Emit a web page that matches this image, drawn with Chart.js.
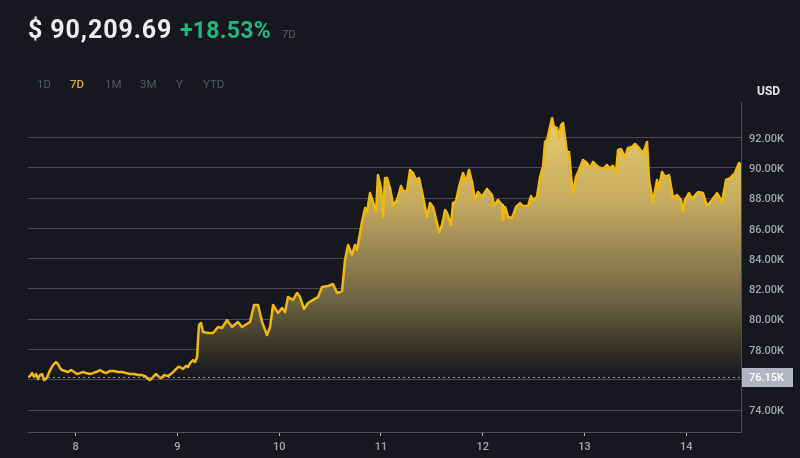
<!DOCTYPE html>
<html>
<head>
<meta charset="utf-8">
<style>
html,body{margin:0;padding:0;background:#17181f;width:800px;height:458px;overflow:hidden;font-family:Roboto,sans-serif}
#wrap{position:relative;width:800px;height:458px}
canvas{position:absolute;left:0;top:0}
.t{position:absolute;white-space:nowrap;line-height:1}
</style>
</head>
<body>
<div id="wrap">
<canvas id="c" width="800" height="458"></canvas>
<div class="t" style="left:28px;top:17px;font-size:25px;font-weight:700;color:#eceef2;letter-spacing:0.9px">$ 90,209.69</div>
<div class="t" style="left:180px;top:19px;font-size:23px;font-weight:700;color:#1cb97c;letter-spacing:0.3px">+18.53%</div>
<div class="t" style="left:282px;top:29px;font-size:11px;color:#5a5c66">7D</div>
<div class="t" style="left:37px;top:79px;font-size:11.5px;color:#575963">1D</div>
<div class="t" style="left:70px;top:79px;font-size:11.5px;font-weight:500;color:#d6ab33">7D</div>
<div class="t" style="left:105px;top:79px;font-size:11.5px;color:#575963">1M</div>
<div class="t" style="left:140px;top:79px;font-size:11.5px;color:#575963">3M</div>
<div class="t" style="left:176px;top:79px;font-size:11.5px;color:#575963">Y</div>
<div class="t" style="left:203px;top:79px;font-size:11.5px;color:#575963">YTD</div>
<div class="t" style="left:757px;top:85px;font-size:12px;font-weight:700;color:#e4e6ea">USD</div>
</div>
<script src="https://cdn.jsdelivr.net/npm/chart.js@4"></script>
<script>
const days=[7.533,7.553,7.573,7.592,7.612,7.632,7.651,7.671,7.691,7.710,7.730,7.750,7.779,7.808,7.828,7.848,7.867,7.897,7.926,7.956,7.985,8.015,8.044,8.074,8.103,8.142,8.172,8.201,8.241,8.270,8.300,8.339,8.378,8.417,8.457,8.496,8.535,8.575,8.614,8.653,8.683,8.712,8.732,8.761,8.791,8.820,8.840,8.869,8.909,8.948,8.977,9.007,9.027,9.056,9.085,9.105,9.125,9.154,9.174,9.194,9.203,9.213,
9.233,9.252,9.302,9.351,9.400,9.439,9.488,9.537,9.596,9.635,9.714,9.753,9.793,9.832,9.881,9.911,9.940,9.989,10.028,10.058,10.087,10.137,10.176,10.205,10.244,10.284,10.333,10.382,10.421,10.480,10.529,10.569,10.618,10.638,
10.647,10.677,10.716,10.745,10.765,10.814,10.844,10.863,10.893,10.922,10.952,10.971,11.001,11.021,11.040,11.060,11.089,11.119,11.158,11.197,11.217,11.256,11.286,11.315,11.345,11.374,11.404,11.453,11.482,11.512,11.551,11.571,11.600,11.630,11.649,11.689,11.708,11.738,11.767,11.806,11.836,11.865,11.895,11.924,11.954,11.993,
12.042,12.091,12.111,12.150,12.190,12.199,12.219,12.249,12.288,12.327,12.366,12.396,12.445,12.474,12.494,12.533,12.563,12.592,12.612,12.632,12.681,12.700,12.730,12.749,12.769,12.789,12.828,12.848,12.877,12.887,12.916,12.946,12.985,13.025,13.054,13.083,13.133,13.182,13.221,13.241,13.280,13.309,13.329,13.358,13.398,13.427,13.467,13.496,13.526,13.575,13.614,13.634,13.673,13.712,13.732,13.761,13.791,13.830,13.869,13.909,13.948,13.968,13.987,14.026,14.056,14.115,14.164,14.203,14.253,14.302,14.351,14.390,14.429,14.478,14.518,14.537];
const prices=[76.18,76.24,76.44,76.18,76.38,76.05,76.31,76.38,75.98,76.05,76.31,76.64,76.97,77.17,77.04,76.77,76.64,76.58,76.51,76.64,76.51,76.38,76.44,76.51,76.44,76.38,76.44,76.51,76.64,76.51,76.44,76.58,76.58,76.51,76.51,76.44,76.38,76.38,76.31,76.31,76.24,76.05,75.98,76.18,76.38,76.18,76.11,76.31,76.24,76.44,76.64,76.84,76.84,76.71,76.91,76.84,77.10,77.30,77.17,77.50,78.62,79.61,
79.75,79.15,79.09,79.09,79.48,79.42,79.94,79.48,79.81,79.48,79.81,80.94,80.94,79.81,78.95,79.48,80.94,80.41,80.74,80.47,81.46,81.27,81.73,81.46,80.67,81.07,81.27,81.46,82.12,82.19,82.32,81.73,81.86,83.25,
83.91,84.90,84.24,84.90,84.57,86.42,87.34,87.08,88.33,87.74,87.08,89.52,88.66,86.75,89.32,89.32,88.66,87.54,87.87,88.79,88.46,88.46,89.85,89.65,89.19,89.32,88.40,86.75,87.67,87.41,86.35,85.76,86.22,87.21,87.01,86.22,87.67,87.80,88.73,89.65,89.06,89.85,89.06,87.87,88.40,88.07,
88.60,88.20,87.47,87.87,87.54,86.55,87.41,86.75,86.68,87.41,87.67,87.47,87.47,88.13,87.87,88.07,89.39,90.05,91.70,91.83,93.29,92.69,92.63,91.97,92.82,92.96,90.97,91.04,88.73,88.33,89.39,89.85,90.51,90.31,89.98,90.38,90.05,89.92,90.18,89.98,90.12,89.65,91.17,91.24,90.71,91.31,91.37,91.57,91.37,90.97,91.70,89.19,87.74,89.19,88.66,89.72,89.39,89.52,88.00,88.20,87.87,87.08,87.87,88.33,87.94,88.40,88.33,87.47,87.87,88.33,87.74,89.19,89.32,89.65,90.31,90.18];
const baseDays=[7.533,14.537];
const baseValues=[76.15,76.15];
const baseLabel='76.15K';
const yTicks=[74,76,78,80,82,84,86,88,90,92];
const xTicks=[8,9,10,11,12,13,14];

const tagPlugin={id:'tag',afterDraw(ch){
  const y=ch.scales.y.getPixelForValue(baseValues[0]),c=ch.ctx,l=ch.chartArea.right;
  c.save();c.fillStyle='#b3b6c2';c.fillRect(l+1,y-9.5,51,19);
  c.fillStyle='#ffffff';c.font='500 11px Roboto';c.textAlign='left';c.textBaseline='middle';
  c.fillText(baseLabel,l+8,y+1);c.restore();
}};
new Chart(document.getElementById('c'),{
  type:'line',
  data:{datasets:[
    {label:'base',order:0,data:baseDays.map((d,i)=>({x:d,y:baseValues[i]})),borderColor:'#9a9ca8',borderWidth:1,borderDash:[2,3],pointRadius:0,fill:false},
    {label:'price',order:1,data:days.map((d,i)=>({x:d,y:prices[i]})),borderColor:'#f0b90b',borderWidth:2.5,borderJoinStyle:'round',pointRadius:0,tension:0,
     fill:{value:baseValues[0]},
     backgroundColor(ctx){
       const a=ctx.chart.chartArea; if(!a) return 'rgba(0,0,0,0)';
       const g=ctx.chart.ctx.createLinearGradient(0,118,0,377);
       g.addColorStop(0,'rgb(232,205,110)');
       g.addColorStop(0.317,'rgb(197,172,95)');
       g.addColorStop(0.703,'rgb(110,100,68)');
       g.addColorStop(0.896,'rgb(52,49,38)');
       g.addColorStop(1,'rgb(23,24,31)');
       return g;
     }}
  ]},
  plugins:[tagPlugin],
  options:{
    responsive:false,animation:false,devicePixelRatio:1,
    layout:{padding:{left:28,top:102,right:0,bottom:0}},
    plugins:{legend:{display:false},tooltip:{enabled:false},title:{display:false}},
    scales:{
      x:{type:'linear',min:7.533,max:14.537,
        afterBuildTicks(s){s.ticks=xTicks.map(v=>({value:v}));},
        afterFit(s){s.height=26;},
        grid:{drawOnChartArea:false,drawTicks:true,tickLength:4,color:'#b5b7c0'},
        border:{color:'#4b4d58',width:1},
        ticks:{color:'#a4a6ae',font:{family:'Roboto',size:11,weight:'500'},padding:5,maxRotation:0,callback:v=>String(v)}},
      y:{position:'right',min:72.55,max:94.34,
        afterBuildTicks(s){s.ticks=yTicks.map(v=>({value:v}));},
        afterFit(s){s.width=59;},
        grid:{drawTicks:false,color:'#474955',lineWidth:1},
        border:{color:'#4b4d58',width:1},
        ticks:{color:'#a4a6ae',font:{family:'Roboto',size:11,weight:'500'},padding:8,labelOffset:1.5,callback:v=>v.toFixed(2)+'K'}}
    }
  }
});
</script>
</body>
</html>
